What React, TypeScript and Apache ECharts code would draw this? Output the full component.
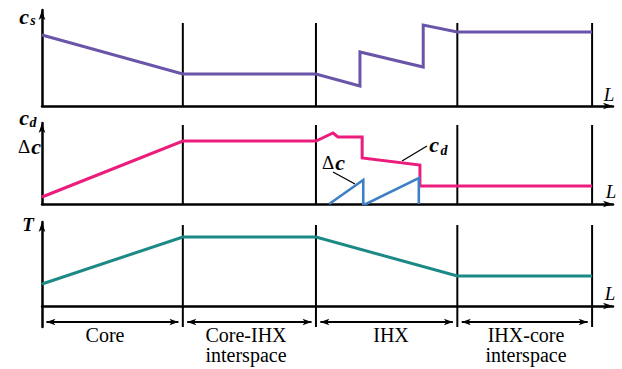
import React, { useEffect, useRef } from "react";
import * as echarts from "echarts";

// Normalised length L (0 = core inlet, 100 = end of IHX-core interspace)
const boundaries = [0, 25.6, 49.8, 75.5, 100];
const segmentNames = ["Core", "Core-IHX\ninterspace", "IHX", "IHX-core\ninterspace"];

// c_s (panel 1)
const csX = [0, 25.6, 49.8, 57.8, 57.8, 69.3, 69.3, 75.5, 100];
const csY = [71, 32, 32, 20, 54, 39, 81, 74, 74];
// c_d (panel 2)
const cdX = [0, 25.6, 49.8, 52.9, 53.8, 58.2, 58.2, 68.7, 68.7, 100];
const cdY = [7, 63, 63, 71, 67, 67, 46, 39, 18, 18];
// Δc (panel 2)
const dcX = [52.2, 58.4, 58.4, 58.9, 68.5, 68.5];
const dcY = [0, 24, 0, 0, 26, 0];
// T (panel 3)
const tX = [0, 25.6, 49.8, 75.5, 100];
const tY = [22, 69, 69, 30, 30];

const zip = (xs: number[], ys: number[]) => xs.map((x, i) => [x, ys[i]]);

const FAM = "Liberation Serif";

export default function App() {
  const ref = useRef<HTMLDivElement>(null);
  useEffect(() => {
    if (!ref.current) return;
    const chart = echarts.init(ref.current, null, { renderer: "svg" });

    const panels = [
      { top: 10, height: 96, min: 0, max: 96, divTop: 83, divBottom: 0 },
      { top: 123, height: 81, min: 0, max: 81, divTop: 79, divBottom: 0 },
      { top: 222, height: 105, min: -21, max: 84, divTop: 81, divBottom: -21 },
    ];
    const axisLine = {
      show: true,
      onZero: true,
      symbol: ["none", "arrow"],
      symbolSize: [5, 10],
      lineStyle: { color: "#000", width: 2.5 },
    };

    const grid = panels.map((p) => ({ left: 42, width: 571, top: p.top, height: p.height }));
    const xAxis = panels.map((_, i) => ({
      type: "value",
      gridIndex: i,
      min: 0,
      max: 103.8,
      axisLine,
      axisTick: { show: false },
      axisLabel: { show: false },
      splitLine: { show: false },
    }));
    const yAxis = panels.map((p, i) => ({
      type: "value",
      gridIndex: i,
      min: p.min,
      max: p.max,
      axisLine,
      axisTick: { show: false },
      axisLabel: { show: false },
      splitLine: { show: false },
    }));

    const series: any[] = [];
    panels.forEach((p, pi) => {
      boundaries.slice(1).forEach((b) => {
        series.push({
          type: "line",
          xAxisIndex: pi,
          yAxisIndex: pi,
          data: [
            [b, p.divBottom],
            [b, p.divTop],
          ],
          symbol: "none",
          lineStyle: { color: "#000", width: 2 },
          silent: true,
        });
      });
    });

    const inset = 0.8;
    series.push({
      type: "line",
      xAxisIndex: 2,
      yAxisIndex: 2,
      data: [],
      symbol: "none",
      markLine: {
        silent: true,
        symbol: ["arrow", "arrow"],
        symbolSize: [5, 9],
        label: { show: false },
        lineStyle: { color: "#000", width: 2, type: "solid" },
        data: boundaries.slice(0, -1).map((b, i) => [
          { coord: [b + inset, -16] },
          { coord: [boundaries[i + 1] - inset, -16] },
        ]),
      },
    });

    const curve = (pi: number, xs: number[], ys: number[], color: string, width: number) => ({
      type: "line",
      xAxisIndex: pi,
      yAxisIndex: pi,
      data: zip(xs, ys),
      symbol: "none",
      lineStyle: { color, width, join: "miter" },
      z: 3,
    });
    series.push(curve(0, csX, csY, "#6a55a8", 3));
    series.push(curve(1, cdX, cdY, "#ec1c7c", 3));
    series.push(curve(1, dcX, dcY, "#3f7fc6", 2.6));
    series.push(curve(2, tX, tY, "#1b8986", 3));

    const txt = (x: number, y: number, text: string, size: number, bold = false, italic = false) => ({
      type: "text",
      x,
      y,
      style: {
        text,
        align: "center",
        verticalAlign: "middle",
        fontFamily: FAM,
        fontSize: size,
        fontWeight: bold ? "bold" : "normal",
        fontStyle: italic ? "italic" : "normal",
        fill: "#000",
      },
    });
    const deltaC = (x: number, y: number) => [
      txt(x - 6, y, "Δ", 19),
      txt(x + 6, y, "c", 22, true, true),
    ];

    const graphic: any[] = [
      txt(24, 16, "c", 22, true, true),
      txt(33, 20, "s", 14, true, true),
      txt(24, 117, "c", 22, true, true),
      txt(33, 122, "d", 14, true, true),
      ...deltaC(30, 146),
      txt(28, 224, "T", 19, true, true),
      txt(609, 94, "L", 19, false, true),
      txt(611, 191, "L", 19, false, true),
      txt(610, 293, "L", 19, false, true),
      ...deltaC(334, 162),
      txt(434, 144, "c", 22, true, true),
      txt(444, 150, "d", 14, true, true),
      { type: "line", shape: { x1: 333, y1: 172, x2: 355, y2: 184 }, style: { stroke: "#000", lineWidth: 1.3 } },
      { type: "line", shape: { x1: 427, y1: 146, x2: 402, y2: 161 }, style: { stroke: "#000", lineWidth: 1.3 } },
    ];

    const labelX = [105, 246, 391, 526];
    segmentNames.forEach((name, i) => {
      graphic.push({
        type: "text",
        x: labelX[i],
        y: 325,
        style: {
          text: name,
          align: "center",
          verticalAlign: "top",
          fontFamily: FAM,
          fontSize: 20,
          lineHeight: 20,
          fill: "#000",
        },
      });
    });

    chart.setOption({
      animation: false,
      backgroundColor: "#fff",
      grid,
      xAxis,
      yAxis,
      series,
      graphic,
    });
    return () => chart.dispose();
  }, []);

  return (
    <div
      ref={ref}
      style={{ position: "fixed", left: 0, top: 0, width: 622, height: 369 }}
    />
  );
}
